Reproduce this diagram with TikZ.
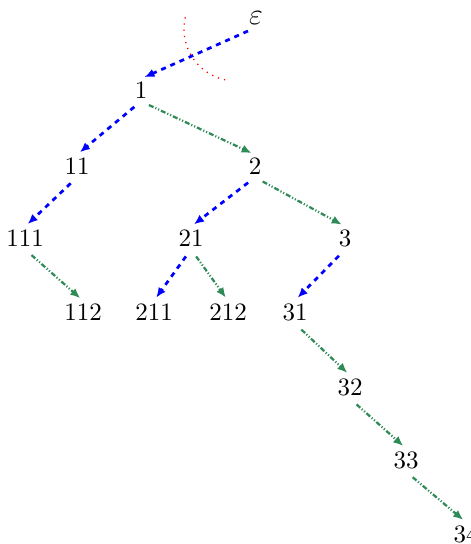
\documentclass[tikz,border=0pt]{standalone}
\usetikzlibrary{arrows.meta}
\definecolor{edgegreen}{RGB}{46,139,87}
\begin{document}
\begin{tikzpicture}[x=0.4pt,y=-0.4pt,
  lbl/.style={inner sep=1pt},
  leftedge/.style={draw=blue,line width=1.1pt,dash pattern=on 2pt off 2pt,-{Latex[length=4pt,width=3.4pt]},shorten <=3.5pt,shorten >=1.5pt},
  rightedge/.style={draw=edgegreen,line width=0.9pt,dash pattern=on 2pt off 0.8pt on 0.45pt off 0.8pt on 0.45pt off 0.8pt,-{Latex[length=4pt,width=3.4pt]},shorten <=3.5pt,shorten >=1.5pt},
  markarc/.style={draw=red,dotted,line width=0.5pt}]
\useasboundingbox (0,0) rectangle (471,544);
\node[lbl] (e) at (256,18) {\large$\varepsilon$};
\node[lbl] (n1) at (141,90) {1};
\node[lbl] (n11) at (77,166) {11};
\node[lbl] (n2) at (255,166) {2};
\node[lbl] (n111) at (25,238) {111};
\node[lbl] (n21) at (191,238) {21};
\node[lbl] (n3) at (345,238) {3};
\node[lbl] (n112) at (83,312) {112};
\node[lbl] (n211) at (154,312) {211};
\node[lbl] (n212) at (228,312) {212};
\node[lbl] (n31) at (295,312) {31};
\node[lbl] (n32) at (350,387) {32};
\node[lbl] (n33) at (406,460) {33};
\node[lbl] (n34) at (466,534) {34};
\draw[markarc] (185.3,17.3) arc[start angle=167,end angle=259,radius=20.8pt];
\draw[leftedge] (e.south) -- (n1.north);
\draw[leftedge] (n1.south) -- (n11.north);
\draw[rightedge] (n1.south) -- (n2.north);
\draw[leftedge] (n11.south) -- (n111.north);
\draw[rightedge] (n111.south) -- (n112.north);
\draw[leftedge] (n2.south) -- (n21.north);
\draw[rightedge] (n2.south) -- (n3.north);
\draw[leftedge] (n21.south) -- (n211.north);
\draw[rightedge] (n21.south) -- (n212.north);
\draw[leftedge] (n3.south) -- (n31.north);
\draw[rightedge] (n31.south) -- (n32.north);
\draw[rightedge] (n32.south) -- (n33.north);
\draw[rightedge] (n33.south) -- (n34.north);
\end{tikzpicture}
\end{document}
